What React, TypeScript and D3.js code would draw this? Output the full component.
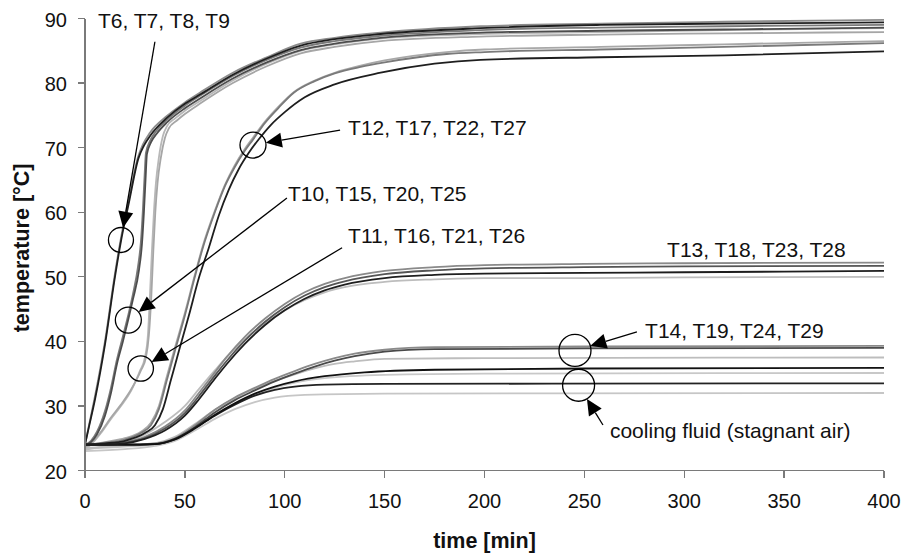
import React from 'react';
import * as d3 from 'd3';

type Pt = [number, number];

// Axis ticks
const xTicks = [0, 50, 100, 150, 200, 250, 300, 350, 400];
const yTicks = [20, 30, 40, 50, 60, 70, 80, 90];

// T6, T7, T8, T9
const a1: Pt[] = [[0, 24], [2, 27], [5, 31.5], [10, 40], [15, 50.5], [18, 56], [22, 62], [26.5, 68.5], [29, 70.5], [32.5, 72.3], [41, 74.9], [50, 77], [58, 78.6], [74, 81.6], [91, 84], [108, 86.1], [125, 87], [148, 87.8], [198, 88.8], [258, 89.2], [320, 89.5], [400, 89.8]];
const a2: Pt[] = [[0, 24], [2, 26.8], [5, 31], [10, 39.5], [15, 50], [18, 55.5], [22, 61.5], [26.7, 68.3], [29.5, 70.3], [33, 72], [41, 74.6], [50, 76.8], [58, 78.3], [74, 81.3], [91, 83.8], [108, 85.8], [125, 86.8], [148, 87.6], [198, 88.5], [258, 89], [320, 89.2], [400, 89.4]];

// T10, T15, T20, T25
const b1: Pt[] = [[0, 24], [3, 24.4], [6, 25.6], [10, 28.5], [13, 32], [16, 36.5], [19, 40], [21.6, 43.3], [24, 46.5], [27, 51], [28.5, 55], [29.5, 60], [30.3, 65], [31, 69], [33, 70.8], [36, 72.2], [41, 73.9], [50, 76.1], [58, 77.7], [74, 80.7], [91, 83.2], [108, 85.1], [125, 86.1], [148, 87], [198, 87.8], [258, 88.1], [320, 88.3], [400, 88.6]];
const b2: Pt[] = [[0, 24], [3, 24.6], [6, 26], [10, 29.2], [13, 32.8], [16, 37.2], [19, 40.8], [21.6, 44], [24, 47.3], [26.5, 51.5], [28, 55.5], [29, 60.5], [29.8, 65.5], [30.5, 69.2], [32.5, 71], [36, 72.7], [41, 74.3], [50, 76.5], [58, 78.1], [74, 81.1], [91, 83.6], [108, 85.5], [125, 86.5], [148, 87.3], [198, 88.2], [258, 88.6], [320, 88.8], [400, 89]];

// T11, T16, T21, T26
const c1: Pt[] = [[0, 23.3], [3, 24], [8, 25.8], [13, 28], [18, 30], [23, 32.3], [27.6, 35.5], [30, 37.5], [31.5, 41], [32.5, 47], [33.5, 54], [34.5, 60], [35.5, 64.5], [37, 68.5], [39, 71.8], [41, 73.3], [45, 74.5], [50, 75.7], [58, 77.3], [74, 80.4], [91, 83], [108, 85], [125, 86], [148, 86.9], [198, 87.6], [258, 87.9], [320, 88.2], [400, 88.5]];
const c2: Pt[] = [[0, 23.6], [3, 24.2], [8, 26], [13, 28.2], [18, 30.2], [23, 32.5], [28, 35.5], [30.5, 37.5], [32, 41], [33.2, 47], [34.2, 54], [35.2, 60], [36.3, 64.5], [38, 68.5], [40, 71.5], [42, 73], [46, 74.2], [50, 75.2], [58, 76.9], [74, 80], [91, 82.6], [108, 84.6], [125, 85.6], [148, 86.5], [198, 87.2], [258, 87.5], [320, 87.7], [400, 87.9]];

// T12, T17, T22, T27
const d1: Pt[] = [[0, 24], [10, 24.3], [20, 24.8], [28, 25.8], [33, 27], [37, 29.5], [41, 34], [45, 38.5], [50, 44], [55, 50], [59, 54.5], [65, 60], [70, 64], [75, 67], [80, 69.5], [84, 71.2], [90, 73.8], [97, 76.2], [104.5, 78.5], [115, 80.3], [125, 81.5], [138, 82.5], [150, 83.2], [181, 84.5], [200, 84.8], [258, 85.2], [320, 85.6], [400, 86.2]];
const d2: Pt[] = [[0, 24], [10, 24.2], [20, 24.6], [30, 25.8], [35, 27], [39, 29.5], [43, 34], [47, 38.5], [52, 44], [57, 49.8], [62, 54.5], [67, 59.5], [72, 63.5], [77, 66.7], [82, 69.2], [87, 71.3], [93, 73.5], [100, 75.5], [110, 77.8], [125, 79.8], [148, 81.6], [175, 83], [198, 83.6], [258, 84], [320, 84.3], [400, 84.9]];
const d3s: Pt[] = [[0, 23.8], [10, 24.4], [20, 25], [28, 26], [33, 27.4], [37, 30], [41, 34.6], [45, 39], [50, 44.4], [55, 50.3], [59, 54.8], [65, 60.2], [70, 64.2], [75, 67.3], [80, 69.8], [84, 71.5], [90, 74], [97, 76.4], [104.5, 78.6], [115, 80.4], [125, 81.6], [138, 82.7], [150, 83.5], [181, 84.8], [200, 85.2], [258, 85.6], [320, 86], [400, 86.5]];

// T13, T18, T23, T28
const e1: Pt[] = [[0, 24], [10, 24.1], [20, 24.4], [30, 25.2], [40, 26.8], [50, 29.3], [57, 32], [65, 35.2], [71, 37.6], [80, 40.7], [90, 43.5], [100, 45.8], [110, 47.6], [120, 48.9], [130, 49.8], [150, 50.9], [175, 51.5], [200, 51.8], [250, 52], [300, 52.1], [400, 52.2]];
const e2: Pt[] = [[0, 24], [10, 24], [20, 24.3], [30, 25], [40, 26.5], [50, 28.9], [57, 31.5], [65, 34.7], [71, 37], [80, 40.1], [90, 43], [100, 45.3], [110, 47.1], [120, 48.4], [130, 49.3], [150, 50.4], [175, 51], [200, 51.3], [250, 51.5], [300, 51.6], [400, 51.7]];
const e3: Pt[] = [[0, 24], [10, 24], [20, 24.2], [30, 24.9], [40, 26.2], [50, 28.5], [57, 31], [65, 34.2], [71, 36.5], [80, 39.6], [90, 42.5], [100, 44.8], [110, 46.6], [120, 47.9], [130, 48.8], [150, 49.8], [175, 50.3], [200, 50.5], [250, 50.6], [300, 50.7], [400, 50.9]];
const e4: Pt[] = [[0, 23.2], [10, 23.8], [20, 24.5], [30, 25.6], [40, 27.5], [50, 30], [57, 32.6], [65, 35.5], [71, 37.6], [80, 40.3], [90, 42.8], [100, 44.8], [110, 46.4], [120, 47.6], [130, 48.4], [150, 49.2], [175, 49.6], [200, 49.8], [250, 49.8], [300, 49.9], [400, 50]];

// T14, T19, T24, T29
const f1: Pt[] = [[0, 24], [20, 24], [35, 24.2], [45, 25], [55, 27], [65, 29.4], [75, 31.3], [85, 32.8], [95, 34.2], [105, 35.4], [115, 36.5], [125, 37.4], [135, 38.1], [150, 38.7], [175, 39.1], [250, 39.2], [400, 39.3]];
const f2: Pt[] = [[0, 24], [20, 24], [35, 24.1], [45, 24.8], [55, 26.7], [65, 29], [75, 30.9], [85, 32.4], [95, 33.8], [105, 35], [115, 36.1], [125, 37], [135, 37.7], [150, 38.4], [175, 38.8], [250, 38.9], [400, 39]];
const f3: Pt[] = [[0, 23.5], [20, 23.8], [35, 24.2], [45, 25.2], [55, 27.2], [65, 29.4], [75, 31.2], [85, 32.7], [95, 33.9], [105, 34.9], [115, 35.8], [125, 36.5], [135, 36.9], [150, 37.3], [200, 37.4], [400, 37.5]];

// cooling fluid (stagnant air)
const g1: Pt[] = [[0, 24], [20, 24], [35, 24.1], [45, 24.8], [55, 26.5], [65, 28.6], [75, 30.4], [85, 31.9], [95, 33], [105, 33.8], [120, 34.6], [140, 35.2], [175, 35.6], [250, 35.8], [400, 35.9]];
const g2: Pt[] = [[0, 23.4], [20, 23.7], [35, 24.1], [45, 25], [55, 26.8], [65, 28.7], [75, 30.3], [85, 31.7], [95, 32.8], [105, 33.6], [120, 34.3], [150, 34.8], [200, 35], [400, 35.1]];
const g3: Pt[] = [[0, 24], [20, 24], [35, 24.1], [45, 24.9], [55, 26.6], [65, 28.5], [75, 30.2], [85, 31.6], [95, 32.5], [105, 33], [120, 33.3], [150, 33.4], [400, 33.5]];
const g4: Pt[] = [[0, 23], [20, 23.3], [35, 23.8], [45, 24.6], [55, 26.2], [65, 28], [75, 29.5], [85, 30.6], [95, 31.3], [110, 31.7], [150, 31.9], [400, 32]];

// drawing order: light traces underneath, dark traces on top
const traces: { data: Pt[]; color: string }[] = [
  { data: g4, color: '#c6c6c6' },
  { data: g2, color: '#c8c8c8' },
  { data: f3, color: '#bdbdbd' },
  { data: e4, color: '#bdbdbd' },
  { data: c1, color: '#b8b8b8' },
  { data: c2, color: '#a6a6a6' },
  { data: d3s, color: '#a8a8a8' },
  { data: f1, color: '#8a8a8a' },
  { data: e1, color: '#8a8a8a' },
  { data: d1, color: '#7a7a7a' },
  { data: a1, color: '#8c8c8c' },
  { data: b2, color: '#7a7a7a' },
  { data: e2, color: '#555555' },
  { data: f2, color: '#4a4a4a' },
  { data: b1, color: '#4d4d4d' },
  { data: g3, color: '#222222' },
  { data: g1, color: '#111111' },
  { data: e3, color: '#1e1e1e' },
  { data: d2, color: '#1e1e1e' },
  { data: a2, color: '#1e1e1e' },
];

// callouts in data units: label anchor, leader start, circled point
type Callout = { text: string; lx: number; ly: number; sx?: number; sy?: number; cx?: number; cy?: number; r?: number };
const callouts: Callout[] = [
  { text: 'T6, T7, T8, T9', lx: 6.5, ly: 88.5, sx: 35, sy: 86.4, cx: 18, cy: 55.7, r: 12.5 },
  { text: 'T12, T17, T22, T27', lx: 131.7, ly: 72, sx: 127.7, sy: 72.7, cx: 84.1, cy: 70.4, r: 13 },
  { text: 'T10, T15, T20, T25', lx: 101.6, ly: 61.7, sx: 101.1, sy: 62.2, cx: 21.7, cy: 43.3, r: 13 },
  { text: 'T11, T16, T21, T26', lx: 131.7, ly: 55.2, sx: 128.7, sy: 54.5, cx: 27.9, cy: 35.8, r: 12.7 },
  { text: 'T13, T18, T23, T28', lx: 291.4, ly: 53.1 },
  { text: 'T14, T19, T24, T29', lx: 280.4, ly: 40.5, sx: 276.3, sy: 41.45, cx: 245.3, cy: 38.6, r: 16 },
  { text: 'cooling fluid (stagnant air)', lx: 262.8, ly: 25.0, sx: 259.3, sy: 27.05, cx: 247.1, cy: 33.2, r: 16 },
];

const W = 912;
const H = 556;
const FONT = '"Liberation Sans", Arial, Helvetica, sans-serif';

export default function App() {
  const x = d3.scaleLinear().domain([0, 400]).range([85, 884]);
  const y = d3.scaleLinear().domain([20, 90]).range([470.5, 18.5]);
  const line = d3
    .line<Pt>()
    .x((d) => x(d[0]))
    .y((d) => y(d[1]))
    .curve(d3.curveMonotoneX);

  const axisColor = '#7a7a7a';

  return (
    <svg
      width={W}
      height={H}
      viewBox={`0 0 ${W} ${H}`}
      style={{ position: 'absolute', left: 0, top: 0, background: '#fff' }}
      fontFamily={FONT}
    >
      <rect x={0} y={0} width={W} height={H} fill="#fff" />

      {/* measured traces */}
      <g fill="none" strokeWidth={1.8} strokeLinejoin="round">
        {traces.map((t, i) => (
          <path key={i} d={line(t.data) ?? ''} stroke={t.color} />
        ))}
      </g>

      {/* axes */}
      <g stroke={axisColor} strokeWidth={1.3} shapeRendering="crispEdges">
        <line x1={x(0)} x2={x(0)} y1={y(90)} y2={y(20)} />
        <line x1={x(0)} x2={x(400)} y1={y(20)} y2={y(20)} />
        {yTicks.map((v) => (
          <line key={'yt' + v} x1={x(0) - 7} x2={x(0)} y1={y(v)} y2={y(v)} />
        ))}
        {xTicks.map((v) => (
          <line key={'xt' + v} x1={x(v)} x2={x(v)} y1={y(20)} y2={y(20) + 7} />
        ))}
      </g>
      <g fontSize={20} fill="#111">
        {yTicks.map((v) => (
          <text key={'yl' + v} x={67} y={y(v) + 8} textAnchor="end">
            {v}
          </text>
        ))}
        {xTicks.map((v) => (
          <text key={'xl' + v} x={x(v)} y={508} textAnchor="middle">
            {v}
          </text>
        ))}
      </g>

      {/* axis titles */}
      <text x={(x(0) + x(400)) / 2} y={548} textAnchor="middle" fontSize={21.5} fontWeight="bold" fill="#111">
        time [min]
      </text>
      <text
        transform={`translate(29,${248}) rotate(-90)`}
        textAnchor="middle"
        fontSize={21.5}
        fontWeight="bold"
        fill="#111"
      >
        temperature [°C]
      </text>

      {/* callouts */}
      <g>
        {callouts.map((c, i) => {
          const parts: React.ReactNode[] = [];
          if (c.cx !== undefined && c.cy !== undefined && c.sx !== undefined && c.sy !== undefined) {
            const cxp = x(c.cx);
            const cyp = y(c.cy);
            const sxp = x(c.sx);
            const syp = y(c.sy);
            const r = c.r ?? 13;
            const dx = sxp - cxp;
            const dy = syp - cyp;
            const len = Math.hypot(dx, dy);
            const ux = dx / len;
            const uy = dy / len;
            // arrow tip sits on the circle rim
            const tx = cxp + ux * r;
            const ty = cyp + uy * r;
            const headLen = 16;
            const hw = 7.5;
            const bx = tx + ux * headLen;
            const by = ty + uy * headLen;
            const nx = -uy;
            const ny = ux;
            parts.push(
              <ellipse key="c" cx={cxp} cy={cyp} rx={r} ry={r} fill="none" stroke="#000" strokeWidth={1.3} />,
              <line key="l" x1={sxp} y1={syp} x2={bx} y2={by} stroke="#000" strokeWidth={1.3} />,
              <polygon
                key="h"
                points={`${tx},${ty} ${bx + nx * hw},${by + ny * hw} ${bx - nx * hw},${by - ny * hw}`}
                fill="#000"
              />
            );
          }
          return (
            <g key={i}>
              {parts}
              <text x={x(c.lx)} y={y(c.ly)} fontSize={21} fill="#111">
                {c.text}
              </text>
            </g>
          );
        })}
      </g>
    </svg>
  );
}
